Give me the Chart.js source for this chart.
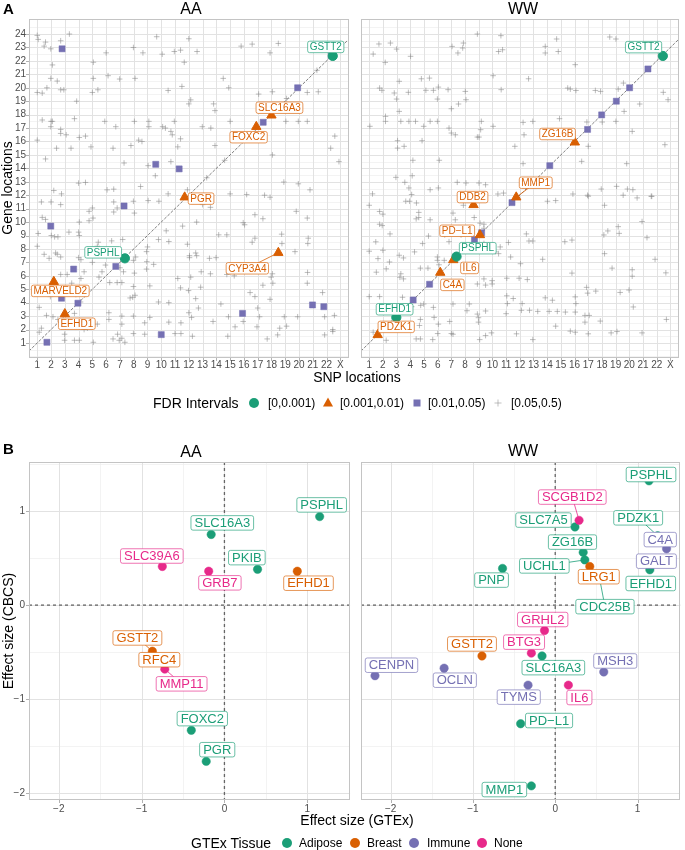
<!DOCTYPE html>
<html><head><meta charset="utf-8">
<script src="https://cdn.jsdelivr.net/npm/chart.js@4.4.1/dist/chart.umd.min.js"></script>
<style>
body{margin:0;background:#fff;font-family:"Liberation Sans",Arial,Helvetica,sans-serif;}
#wrap{position:relative;width:685px;height:850px;overflow:hidden;background:#fff;}
canvas{position:absolute;}
.t{position:absolute;white-space:nowrap;color:#000;line-height:1;}
.c{transform:translate(-50%,-50%);}
.l{transform:translateY(-50%);}
.rot{transform:translate(-50%,-50%) rotate(-90deg);}
.sym{position:absolute;transform:translate(-50%,-50%);}
</style></head><body><div id="wrap">
<canvas id="aAA" width="355" height="372" style="left:0;top:0"></canvas>
<canvas id="aWW" width="345" height="372" style="left:340px;top:0"></canvas>
<canvas id="bAA" width="355" height="365" style="left:0;top:450px"></canvas>
<canvas id="bWW" width="345" height="365" style="left:340px;top:450px"></canvas>

<div class="t" style="left:3px;top:1px;font-size:15px;font-weight:bold">A</div>
<div class="t c" style="left:191px;top:9px;font-size:16px">AA</div>
<div class="t c" style="left:523px;top:9px;font-size:16px">WW</div>
<div class="t rot" style="left:7px;top:188px;font-size:14px">Gene locations</div>
<div class="t c" style="left:357px;top:377px;font-size:14px">SNP locations</div>

<div class="t l" style="left:153px;top:403px;font-size:14px">FDR Intervals</div>
<div class="sym" style="left:254px;top:403px;width:10px;height:10px;border-radius:50%;background:#1B9E77"></div>
<div class="t l" style="left:268px;top:403px;font-size:12px">[0,0.001)</div>
<div class="sym" style="left:328px;top:402px;width:0;height:0;border-left:5.5px solid transparent;border-right:5.5px solid transparent;border-bottom:9.5px solid #D95F02"></div>
<div class="t l" style="left:340px;top:403px;font-size:12px">[0.001,0.01)</div>
<div class="sym" style="left:417px;top:403px;width:7px;height:7px;background:#7570B3"></div>
<div class="t l" style="left:428px;top:403px;font-size:12px">[0.01,0.05)</div>
<div class="sym" style="left:498px;top:403px;width:7px;height:7px;background:linear-gradient(rgba(140,140,140,0.55),rgba(140,140,140,0.55)) center/1px 7px no-repeat,linear-gradient(rgba(140,140,140,0.55),rgba(140,140,140,0.55)) center/7px 1px no-repeat"></div>
<div class="t l" style="left:511px;top:403px;font-size:12px">[0.05,0.5)</div>

<div class="t" style="left:3px;top:441px;font-size:15px;font-weight:bold">B</div>
<div class="t c" style="left:191px;top:452px;font-size:16px">AA</div>
<div class="t c" style="left:523px;top:451px;font-size:16px">WW</div>
<div class="t rot" style="left:8px;top:631px;font-size:14px">Effect size (CBCS)</div>
<div class="t c" style="left:357px;top:820px;font-size:14px">Effect size (GTEx)</div>

<div class="t l" style="left:191px;top:843px;font-size:14px">GTEx Tissue</div>
<div class="sym" style="left:287px;top:843px;width:10px;height:10px;border-radius:50%;background:#1B9E77"></div>
<div class="t l" style="left:299px;top:843px;font-size:12px">Adipose</div>
<div class="sym" style="left:355px;top:843px;width:10px;height:10px;border-radius:50%;background:#D95F02"></div>
<div class="t l" style="left:367px;top:843px;font-size:12px">Breast</div>
<div class="sym" style="left:414px;top:843px;width:10px;height:10px;border-radius:50%;background:#7570B3"></div>
<div class="t l" style="left:427px;top:843px;font-size:12px">Immune</div>
<div class="sym" style="left:482px;top:843px;width:10px;height:10px;border-radius:50%;background:#E7298A"></div>
<div class="t l" style="left:494px;top:843px;font-size:12px">None</div>
</div>
<script>
// ---------------- DATA ----------------
const snpTicks = [1,2,3,4,5,6,7,8,9,10,11,12,13,14,15,16,17,18,19,20,21,22,23];
const snpTickLabels = ['1','2','3','4','5','6','7','8','9','10','11','12','13','14','15','16','17','18','19','20','21','22','X'];
const geneTicks = [1,2,3,4,5,6,7,8,9,10,11,12,13,14,15,16,17,18,19,20,21,22,23,24];
const geneTickLabels = ['1','2','3','4','5','6','7','8','9','10','11','12','13','14','15','16','17','18','19','20','21','22','23','24'];

// Panel A, AA: FDR [0,0.001)
const aaCircleGenes = ['GSTT2','PSPHL'];
const aaCircleSnp = [22.45, 7.36];
const aaCircleLoc = [22.37, 7.3];
// Panel A, AA: FDR [0.001,0.01)
const aaTriGenes = ['SLC16A3','FOXC2','PGR','CYP3A4','MARVELD2','EFHD1'];
const aaTriSnp = [18.0, 16.9, 11.7, 18.5, 2.2, 3.0];
const aaTriLoc = [17.95, 17.1, 11.85, 7.72, 5.56, 3.16];
// Panel A, AA: FDR [0.01,0.05)
const aaSqSnp = [22.35, 19.9, 17.4, 2.8, 9.6, 11.3, 7.3, 1.98, 6.7, 3.64, 2.76, 3.95, 1.7, 10.0, 15.9, 20.98, 21.8];
const aaSqLoc = [22.4, 20.0, 17.43, 22.9, 14.3, 13.96, 11.2, 9.7, 6.7, 6.5, 4.33, 3.96, 1.05, 1.62, 3.2, 3.83, 3.7];
// Panel A, AA: FDR [0.05,0.5)
const aaBgSnp = [1.0,1.07,1.5,1.6,1.98,3.33,2.7,2.1,1.98,2.45,1.7,1.0,1.36,2.7,2.93,3.86,5.07,5.07,5.4,5.0,6.0,6.14,6.98,8.1,7.98,8.67,9.67,10.07,10.5,10.95,11.4,11.5,11.67,12.0,12.6,12.14,12.0,14.5,14.9,15.8,16.6,17.9,18.5,17.07,18.07,19.1,20.6,21.4,21.3,1.36,2.0,2.1,1.98,2.7,2.7,3.1,1.0,2.4,3.45,3.7,4.05,4.5,4.9,5.9,6.5,6.7,7.3,7.8,8.05,8.36,8.6,9.1,9.1,9.05,9.57,10.1,10.3,10.7,10.8,10.7,10.95,11.2,11.4,12.98,13.8,13.9,13.9,13.6,15.0,18.07,19.05,19.95,20.6,22.6,22.3,22.9,1.6,2.2,2.76,4.0,4.5,6.07,6.55,8.5,10.5,11.9,13.3,18.9,19.95,20.8,14.6,
1.3,2.0,2.7,4.76,5.0,6.55,6.8,6.55,7.98,8.05,9.05,9.83,11.55,13.0,13.57,15.0,16.2,17.5,17.9,19.8,20.6,1.36,1.6,1.07,2.02,2.26,2.5,1.0,1.5,2.33,2.45,2.7,1.86,3.3,4.05,4.0,4.05,4.0,4.17,4.17,4.4,4.76,5.05,5.43,5.36,5.0,5.48,5.7,6.4,5.95,6.26,6.8,7.14,7.26,7.2,7.0,7.98,8.05,8.14,7.98,8.1,7.93,7.74,8.93,8.95,8.93,9.45,9.8,10.36,10.55,9.0,11.2,11.4,11.98,12.14,12.05,12.05,11.9,12.5,12.57,12.57,12.9,12.86,12.5,12.7,13.5,13.57,13.98,14.17,14.76,14.76,15.3,16.45,16.8,17.0,16.8,17.38,15.95,16.05,16.6,16.8,17.38,17.98,18.07,18.1,17.9,18.74,18.76,19.71,20.64,20.67,20.62,20.6,21.71,22.57,21.86,18.93,19.1,18.6,19.9,17.14,16.95,15.95,15.36,14.88,14.83,17.69,18.45,21.86,22.45,22.45,14.33,13.76,12.0,12.2,11.43,10.55,11.0,11.43,12.26,10.55,9.8,9.17,8.8,9.17,8.8,7.98,7.98,7.36,7.14,6.95,6.83,6.5,7.14,7.14,6.2,6.2,5.36,5.07,4.64,4.4,4.05,3.7,2.98,2.98,2.5,2.14,1.67,1.3,1.14,1.14,3.7,4.14,3.8,3.5,3.17,2.7,2.2,1.95,1.5];
const aaBgLoc = [23.9,23.6,23.1,23.4,22.9,24.0,23.5,21.7,20.7,20.5,20.0,19.65,19.6,19.85,19.85,19.0,21.9,20.7,19.85,19.65,22.6,20.9,20.65,20.7,23.0,22.6,23.8,22.5,19.8,22.7,22.8,20.1,21.9,23.65,22.7,19.1,18.8,20.7,20.0,23.1,23.25,22.6,23.3,19.53,19.7,19.2,19.65,19.7,21.3,17.6,17.5,17.5,17.1,16.9,16.6,16.5,16.1,15.5,15.5,17.7,16.3,16.4,15.6,17.5,15.5,17.1,14.4,15.7,17.5,16.1,16.0,17.5,17.1,14.2,13.45,17.1,17.0,16.75,16.5,14.5,17.5,15.6,16.2,17.1,18.8,18.3,15.7,17.0,17.5,15.0,17.5,17.5,17.5,16.4,15.5,14.5,14.7,12.35,12.1,12.9,12.95,12.4,12.45,12.65,12.1,12.4,13.3,12.98,12.85,12.4,14.6,
11.5,11.5,11.3,10.8,11.05,11.5,11.05,10.75,11.55,10.67,11.6,11.55,9.7,11.3,11.1,12.1,12.05,12.0,11.85,10.8,10.3,10.35,10.2,9.15,9.0,8.9,8.9,8.2,7.6,7.7,7.6,7.4,7.3,9.25,10.0,9.25,9.0,7.35,7.2,5.8,6.3,10.1,10.3,8.5,8.2,7.0,5.9,6.3,8.6,6.8,5.5,5.5,5.5,6.3,8.7,6.6,7.15,6.2,7.4,5.2,4.55,4.4,4.35,7.8,7.05,6.5,6.85,8.7,9.35,8.55,8.15,5.8,5.1,4.9,5.9,7.5,7.35,8.35,7.7,7.5,10.0,6.3,5.15,4.3,3.6,7.3,6.15,7.35,9.05,9.05,6.1,6.0,4.75,4.45,3.6,10.55,10.25,9.95,9.8,8.5,8.8,5.3,5.9,6.15,5.45,4.25,9.1,8.4,7.8,8.4,8.8,6.25,5.45,4.75,3.05,2.95,2.95,2.25,2.1,2.95,2.95,2.2,2.6,2.2,2.95,1.5,1.3,1.6,1.6,2.0,1.85,3.9,2.6,3.25,2.9,2.5,2.55,1.7,1.7,1.5,4.0,4.05,5.25,2.5,2.9,1.65,3.0,1.7,1.05,1.35,1.2,1.65,1.3,2.4,3.0,3.25,2.75,2.4,1.05,2.1,2.0,1.2,1.2,1.2,1.65,2.75,2.95,3.05,2.1,1.8,3.65,3.2,4.05,4.6,5.45,6.1,6.1,5.0,4.45,5.1];

// Panel A, WW
const wwCircleGenes = ['GSTT2','PSPHL','EFHD1'];
const wwCircleSnp = [22.45, 7.38, 2.98];
const wwCircleLoc = [22.37, 7.43, 2.9];
const wwTriGenes = ['ZG16B','MMP1','DDB2','PD\u2212L1','IL6','C4A','PDZK1'];
const wwTriSnp = [16.02, 11.74, 8.62, 9.09, 7.14, 6.19, 1.62];
const wwTriLoc = [15.94, 11.85, 11.28, 9.04, 7.18, 6.24, 1.6];
const wwSqSnp = [21.36, 20.02, 19.05, 17.98, 16.95, 14.19, 11.43, 9.21, 8.69, 5.41, 4.21];
const wwSqLoc = [21.4, 20.0, 19.0, 17.98, 16.9, 14.2, 11.45, 9.2, 8.7, 5.37, 4.2];
const wwBgSnp = [1.29,1.71,2.55,3.0,2.17,4.02,7.05,7.88,7.83,7.48,8.9,10.62,10.45,10.74,13.86,13.86,14.69,14.81,16.05,18.57,19.02,12.64,10.05,4.81,5.4,3.19,1.76,1.93,2.83,3.86,3.0,3.19,5.14,5.69,6.05,5.98,6.76,8.02,8.07,7.52,7.0,10.64,15.5,15.69,16.1,17.52,17.9,19.19,19.57,22.48,22.83,20.76,19.62,19.02,18.02,16.9,14.9,12.95,12.24,12.31,11.64,12.24,10.05,9.19,9.14,8.9,9.02,7.29,7.0,6.83,5.98,5.45,4.98,4.38,3.9,3.31,2.19,2.19,1.05,3.07,3.07,3.55,4.86,4.19,2.95,3.6,4.14,3.9,6.12,5.45,6.05,7.43,8.07,9.02,9.5,10.4,10.81,15.88,17.0,16.52,19.81,20.21,22.6,19.86,20.26,17.0,17.95,19.07,21.6,
1.24,1.0,1.76,2.0,1.76,1.95,2.52,1.48,2.0,1.0,1.64,1.52,2.24,2.48,3.19,3.5,3.31,3.24,3.5,3.67,3.95,4.45,4.1,4.62,4.62,4.43,5.45,5.33,4.9,4.31,4.74,5.29,5.98,5.98,6.1,6.48,6.52,6.83,7.71,7.12,7.29,7.88,8.67,9.1,9.38,9.38,9.38,9.69,10.21,10.45,11.33,12.05,12.48,12.67,12.95,11.17,10.57,9.98,9.38,9.98,9.5,8.9,11.05,11.95,12.55,13.67,14.02,14.62,16.95,18.19,19.55,20.57,21.64,20.93,19.19,18.43,18.14,19.26,21.29,15.81,15.29,18.19,21.88,18.74,20.21,20.21,22.67,15.81,16.88,16.95,17.55,19.98,19.33,16.05,16.1,13.86,14.38,12.17,11.52,11.05,11.1,11.0,12.12,12.71,13.31,14.14,14.74,15.33,16.05,16.76,17.07,16.76,17.88,18.67,19.1,20.93,20.29,22.71,16.05,15.69,14.62,17.0,12.95,11.76,9.93,9.5,9.07,8.98,8.98,9.5,8.31,7.12,7.0,7.12,6.0,5.64,4.74,4.43,4.67,4.1,4.76,4.98,5.69,5.74,6.88,6.05,4.74,3.43,1.76,1.0,2.24,1.29,8.14,8.9];
const wwBgLoc = [22.51,23.26,23.33,22.88,21.89,22.34,23.08,23.33,22.96,22.59,24.0,23.88,22.7,22.83,23.08,22.59,23.63,22.7,21.72,23.78,23.63,20.67,20.9,20.67,20.72,20.48,19.98,19.81,19.61,19.66,19.16,18.24,19.81,19.81,20.05,19.16,19.86,19.73,19.11,18.79,18.44,19.86,19.98,19.9,19.8,19.8,19.73,19.9,20.35,19.66,19.11,18.79,18.24,17.5,17.45,17.45,17.7,17.5,17.42,16.5,15.64,14.35,17.13,17.5,16.88,16.33,16.33,16.5,16.63,17.0,17.5,17.5,17.13,17.5,17.5,17.5,17.87,17.5,17.13,16.06,15.51,15.64,16.06,14.6,13.33,12.96,13.45,12.54,14.6,12.41,12.54,12.96,12.91,12.91,12.78,12.09,12.16,12.09,15.64,14.52,14.35,16.75,15.76,12.46,12.41,11.92,12.46,12.66,11.92,
12.1,11.25,10.79,10.59,9.84,9.74,9.12,8.53,7.9,7.83,7.28,6.27,6.52,7.03,7.53,7.33,6.15,5.89,5.77,11.55,11.55,11.42,12.05,10.72,10.34,10.24,10.17,8.96,8.4,7.78,6.57,6.57,7.4,7.15,6.82,7.15,9.04,8.54,9.04,10.67,10.17,11.25,10.34,9.92,9.84,9.54,8.41,7.9,7.78,7.65,7.4,6.9,9.12,8.59,8.59,8.48,8.15,5.64,5.77,5.39,5.31,5.39,5.82,5.82,5.72,7.23,11.55,11.6,12.0,11.25,12.0,11.8,11.92,10.04,9.66,9.34,9.04,9.16,8.84,8.66,8.54,7.65,7.23,6.57,6.45,5.97,6.22,6.2,5.14,4.71,4.86,4.94,4.76,4.43,3.93,4.36,4.18,3.93,4.31,4.51,3.93,3.18,3.43,3.43,3.35,3.35,3.35,3.3,3.3,3.05,3.05,2.55,2.63,1.75,1.85,1.75,3.68,2.75,1.8,1.88,2.25,1.68,1.25,1.68,1.75,1.55,1.25,2.55,2.88,3.38,3.9,3.9,1.7,1.65,1.7,1.25,1.3,1.3,2.3,3.7,3.8,3.9,3.65,2.9,2.6,2.4,2.75,4.4,4.45,4.45,1.2,1.8,3.4,3.15];

// Panel B
const effTicks = [-2,-1,0,1];
const effTickLabels = ['\u22122','\u22121','0','1'];
const bAaGenes = ['PSPHL','SLC16A3','SLC39A6','GRB7','PKIB','EFHD1','GSTT2','RFC4','MMP11','FOXC2','PGR'];
const bAaGtex = [1.15,-0.16,-0.75,-0.19,0.40,0.88,-0.87,-0.82,-0.72,-0.40,-0.22];
const bAaCbcs = [0.94,0.75,0.41,0.36,0.38,0.36,-0.49,-0.58,-0.68,-1.33,-1.66];
const bAaTissue = ['Adipose','Adipose','None','None','Adipose','Breast','Breast','Breast','None','Adipose','Adipose'];
const bWwGenes = ['PSPHL','SCGB1D2','SLC7A5','ZG16B','UCHL1','LRG1','CDC25B','PNP','PDZK1','C4A','GALT','EFHD1','GRHL2','BTG3','GSTT2','SLC16A3','CENPN','OCLN','MSH3','TYMS','IL6','PD\u2212L1','MMP1'];
const bWwGtex = [1.14,0.29,0.24,0.34,0.36,0.42,0.54,-0.64,1.245,1.353,1.317,1.15,-0.13,-0.29,-0.89,-0.16,-2.19,-1.35,0.59,-0.33,0.16,-0.42,-0.29];
const bWwCbcs = [1.32,0.90,0.83,0.56,0.48,0.41,0.28,0.39,0.736,0.598,0.47,0.375,-0.27,-0.51,-0.54,-0.54,-0.75,-0.67,-0.71,-0.85,-0.85,-1.26,-1.92];
const bWwTissue = ['Adipose','None','Adipose','Adipose','Adipose','Breast','Adipose','Adipose','Adipose','Immune','Immune','Adipose','None','None','Breast','Adipose','Immune','Immune','Immune','Immune','None','Adipose','Adipose'];
const tissues = ['Adipose','Breast','Immune','None'];

// ---------------- STYLE / LAYOUT ----------------
const FONT = '"Liberation Sans", Arial, Helvetica, sans-serif';
const GREEN='#1B9E77', ORANGE='#D95F02', PURPLE='#7570B3', PINK='#E7298A';
const tissueColor = {Adipose:GREEN, Breast:ORANGE, Immune:PURPLE, None:PINK};
const TICKC = '#4D4D4D';
Chart.defaults.font.family = FONT;

// label box offsets (pixels from the point), third item = draw a segment
const labA_AA = {GSTT2:[-7,-9], SLC16A3:[8,-7.6], FOXC2:[-7.7,10.5], PGR:[16.4,1.4], PSPHL:[-21.7,-6], CYP3A4:[-31,15.6,true], MARVELD2:[6.5,9.2], EFHD1:[12,9.8]};
const labA_WW = {GSTT2:[-19.3,-8.8], ZG16B:[-17.3,-8.3], MMP1:[19.5,-14.5,true], DDB2:[-1,-7.8], 'PD\u2212L1':[-22.8,-4.2], PSPHL:[21.2,-8.4], IL6:[16.3,8], C4A:[12.1,12.3], EFHD1:[-1.7,-8.2], PDZK1:[18.5,-8]};
const labB_AA = {PSPHL:[2,-11.7], SLC16A3:[11.1,-11.6], SLC39A6:[-10.5,-10.5], PKIB:[-10.7,-11.7], GRB7:[11.2,11.6], EFHD1:[11.2,12], GSTT2:[-15,-13.3,true], RFC4:[2.8,0], MMP11:[16.8,14.7,true], FOXC2:[11,-11.7], PGR:[11,-11.7]};
const labB_WW = {PSPHL:[2,-6.3], SCGB1D2:[-6.8,-23.3,true], SLC7A5:[-31.5,-6.9], ZG16B:[-10.7,-10.3], UCHL1:[-40.5,6,true], LRG1:[9,10.2], CDC25B:[5.3,27.9,true], PNP:[-11,11.7], PDZK1:[-19.5,-18,true], C4A:[-6.3,-9.2], GALT:[-7.2,0.3], EFHD1:[0.9,13.7], GRHL2:[-1.8,-11], BTG3:[-7.3,-11], GSTT2:[-10,-12], SLC16A3:[11.3,11.7], CENPN:[16.5,-10.5], OCLN:[10.7,12], MSH3:[11.5,-11], TYMS:[-9.3,12], IL6:[11,12.4], 'PD\u2212L1':[28.4,-3.2], MMP1:[-27,3.7]};

function rgba(hex, a){const n=parseInt(hex.slice(1),16);return `rgba(${n>>16&255},${n>>8&255},${n&255},${a})`;}
function pts(xs, ys){return xs.map((v,i)=>({x:v, y:ys[i]}));}

const framePlugin = {
  id: 'frame',
  beforeDatasetsDraw(chart, args, o) {
    const {ctx, chartArea: a} = chart; const x = chart.scales.x, y = chart.scales.y;
    const seg = (x1,y1,x2,y2)=>{ctx.beginPath();ctx.moveTo(x1,y1);ctx.lineTo(x2,y2);ctx.stroke();};
    ctx.save();
    ctx.beginPath(); ctx.rect(a.left, a.top, a.right-a.left, a.bottom-a.top); ctx.clip();
    ctx.strokeStyle = '#EEEEEE'; ctx.lineWidth = 0.7;
    o.xMinor.forEach(v=>{const p=Math.round(x.getPixelForValue(v))+0.5; seg(p,a.top,p,a.bottom);});
    o.yMinor.forEach(v=>{const p=Math.round(y.getPixelForValue(v))+0.5; seg(a.left,p,a.right,p);});
    ctx.strokeStyle = '#E2E2E2'; ctx.lineWidth = 1;
    o.xMajor.forEach(v=>{const p=Math.round(x.getPixelForValue(v))+0.5; seg(p,a.top,p,a.bottom);});
    o.yMajor.forEach(v=>{const p=Math.round(y.getPixelForValue(v))+0.5; seg(a.left,p,a.right,p);});
    if (o.diagonal) {
      ctx.strokeStyle = 'rgba(40,40,40,0.85)'; ctx.lineWidth = 0.7; ctx.setLineDash([3,1.5]);
      seg(x.getPixelForValue(x.min), y.getPixelForValue(x.min), x.getPixelForValue(x.max), y.getPixelForValue(x.max));
      ctx.setLineDash([]);
    }
    if (o.zero) {
      ctx.strokeStyle = '#666'; ctx.lineWidth = 1.3; ctx.setLineDash([3,3]);
      const px = x.getPixelForValue(0), py = y.getPixelForValue(0);
      seg(px,a.top,px,a.bottom); seg(a.left,py,a.right,py);
      ctx.setLineDash([]);
    }
    ctx.restore();
    ctx.save();
    ctx.strokeStyle = '#C4C4C4'; ctx.lineWidth = 1;
    ctx.strokeRect(Math.round(a.left)+0.5, Math.round(a.top)+0.5, Math.round(a.right-a.left)-1, Math.round(a.bottom-a.top)-1);
    ctx.strokeStyle = '#B3B3B3';
    o.xMajor.forEach(v=>{const p=Math.round(x.getPixelForValue(v))+0.5; seg(p,a.bottom,p,a.bottom+3);});
    if (o.yTicks) o.yMajor.forEach(v=>{const p=Math.round(y.getPixelForValue(v))+0.5; seg(a.left-3,p,a.left,p);});
    ctx.restore();
  }
};

const labelPlugin = {
  id: 'geneLabels',
  afterDatasetsDraw(chart, args, o) {
    const ctx = chart.ctx; const items = [];
    chart.data.datasets.forEach((ds, di) => {
      if (!ds.geneNames) return;
      const meta = chart.getDatasetMeta(di);
      ds.geneNames.forEach((name, i) => {
        const lay = o.layout[name]; if (!lay) return;
        const el = meta.data[i];
        items.push({name, x: el.x, y: el.y, cx: el.x + lay[0], cy: el.y + lay[1], seg: lay[2], color: ds.labelColor});
      });
    });
    ctx.save();
    ctx.font = `${o.size}px ${FONT}`;
    items.forEach(it => { if (!it.seg) return;
      ctx.strokeStyle = it.color; ctx.lineWidth = 0.8;
      ctx.beginPath(); ctx.moveTo(it.x, it.y); ctx.lineTo(it.cx, it.cy); ctx.stroke(); });
    items.forEach(it => {
      const w = ctx.measureText(it.name).width + 2*o.padX, h = o.boxH;
      const l = it.cx - w/2, t = it.cy - h/2;
      ctx.beginPath();
      if (ctx.roundRect) ctx.roundRect(l, t, w, h, o.radius); else ctx.rect(l, t, w, h);
      ctx.fillStyle = '#fff'; ctx.fill();
      ctx.strokeStyle = rgba(it.color, 0.65); ctx.lineWidth = 1; ctx.stroke();
      ctx.fillStyle = it.color; ctx.textAlign = 'center'; ctx.textBaseline = 'middle';
      ctx.fillText(it.name, it.cx, it.cy + o.textDy);
    });
    ctx.restore();
  }
};

function halves(t){const r=[];for(let i=0;i<t.length-1;i++)r.push((t[i]+t[i+1])/2);r.unshift(t[0]-(t[1]-t[0])/2);r.push(t[t.length-1]+(t[1]-t[0])/2);return r;}

function baseOptions(o) {
  return {
    responsive: false, animation: false, events: [], devicePixelRatio: 1,
    layout: {padding: o.padding},
    plugins: {legend: {display: false}, tooltip: {enabled: false},
      frame: o.frame, geneLabels: o.labels},
    scales: {
      x: {type: 'linear', min: o.xmin, max: o.xmax,
        afterBuildTicks: s => { s.ticks = o.xTicks.map(v => ({value: v})); },
        afterFit: s => { s.height = o.xh; },
        grid: {display: false, drawTicks: false}, border: {display: false},
        ticks: {autoSkip: false, maxRotation: 0, minRotation: 0, padding: o.xpad, color: TICKC, font: {size: 10},
          callback: v => o.xLabels[o.xTicks.indexOf(v)]}},
      y: {type: 'linear', min: o.ymin, max: o.ymax,
        afterBuildTicks: s => { s.ticks = o.yTicks.map(v => ({value: v})); },
        afterFit: s => { s.width = o.yw; },
        grid: {display: false, drawTicks: false}, border: {display: false},
        ticks: {display: o.showY, autoSkip: false, padding: o.ypad, color: TICKC, font: {size: 10},
          callback: v => o.yLabels[o.yTicks.indexOf(v)]}}
    }
  };
}

function panelA(id, d, showY, yw, padRight, layout) {
  const datasets = [
    {data: pts(d.cSnp, d.cLoc), geneNames: d.cGenes, labelColor: GREEN, pointStyle: 'circle', pointRadius: 4.6,
     pointBackgroundColor: GREEN, pointBorderColor: GREEN, pointBorderWidth: 1, clip: false},
    {data: pts(d.tSnp, d.tLoc), geneNames: d.tGenes, labelColor: ORANGE, pointStyle: 'triangle', pointRadius: 5.4,
     pointBackgroundColor: ORANGE, pointBorderColor: ORANGE, pointBorderWidth: 1, clip: false},
    {data: pts(d.sSnp, d.sLoc), pointStyle: 'rect', pointRadius: 4.3,
     pointBackgroundColor: PURPLE, pointBorderColor: PURPLE, pointBorderWidth: 0.5, clip: false},
    {data: pts(d.bSnp, d.bLoc), pointStyle: 'cross', pointRadius: 2.8,
     pointBackgroundColor: 'rgba(0,0,0,0)', pointBorderColor: 'rgba(135,135,135,0.55)', pointBorderWidth: 1, clip: false}
  ];
  const opts = baseOptions({
    padding: {top: 19, right: padRight, left: 0, bottom: 0},
    xmin: 0.4, xmax: 23.6, ymin: -0.12, ymax: 25.12,
    xTicks: snpTicks, xLabels: snpTickLabels, yTicks: geneTicks, yLabels: geneTickLabels,
    xh: 14, yw: yw, xpad: 1, ypad: 3, showY: showY,
    frame: {xMajor: snpTicks, xMinor: [], yMajor: geneTicks, yMinor: halves(geneTicks).concat([0]), diagonal: true, zero: false, yTicks: showY},
    labels: {layout: layout, size: 10, padX: 2, boxH: 11.5, radius: 2, textDy: 0.5}
  });
  return new Chart(document.getElementById(id), {type: 'scatter', data: {datasets}, options: opts, plugins: [framePlugin, labelPlugin]});
}

function panelB(id, genes, gx, gy, tis, showY, yw, padRight, layout) {
  const datasets = tissues.slice().reverse().map(t => {
    const idx = genes.map((g,i)=>i).filter(i => tis[i] === t);
    return {data: idx.map(i => ({x: gx[i], y: gy[i]})), geneNames: idx.map(i => genes[i]), labelColor: tissueColor[t],
      pointStyle: 'circle', pointRadius: 4.2, pointBackgroundColor: tissueColor[t], pointBorderColor: tissueColor[t], pointBorderWidth: 0.5, clip: false};
  });
  const opts = baseOptions({
    padding: {top: 12, right: padRight, left: 0, bottom: 0},
    xmin: -2.36, xmax: 1.52, ymin: -2.07, ymax: 1.52,
    xTicks: effTicks, xLabels: effTickLabels, yTicks: effTicks, yLabels: effTickLabels,
    xh: 15, yw: yw, xpad: 3, ypad: 4, showY: showY,
    frame: {xMajor: effTicks, xMinor: halves(effTicks), yMajor: effTicks, yMinor: halves(effTicks), diagonal: false, zero: true, yTicks: showY},
    labels: {layout: layout, size: 13, padX: 3.5, boxH: 14.5, radius: 2, textDy: 0.6}
  });
  return new Chart(document.getElementById(id), {type: 'scatter', data: {datasets}, options: opts, plugins: [framePlugin, labelPlugin]});
}

panelA('aAA', {cGenes: aaCircleGenes, cSnp: aaCircleSnp, cLoc: aaCircleLoc, tGenes: aaTriGenes, tSnp: aaTriSnp, tLoc: aaTriLoc,
  sSnp: aaSqSnp, sLoc: aaSqLoc, bSnp: aaBgSnp, bLoc: aaBgLoc}, true, 29, 1.6, labA_AA);
panelA('aWW', {cGenes: wwCircleGenes, cSnp: wwCircleSnp, cLoc: wwCircleLoc, tGenes: wwTriGenes, tSnp: wwTriSnp, tLoc: wwTriLoc,
  sSnp: wwSqSnp, sLoc: wwSqLoc, bSnp: wwBgSnp, bLoc: wwBgLoc}, false, 21, 0, labA_WW);
panelB('bAA', bAaGenes, bAaGtex, bAaCbcs, bAaTissue, true, 29, 2, labB_AA);
panelB('bWW', bWwGenes, bWwGtex, bWwCbcs, bWwTissue, false, 21, 0, labB_WW);
</script>
</body></html>
